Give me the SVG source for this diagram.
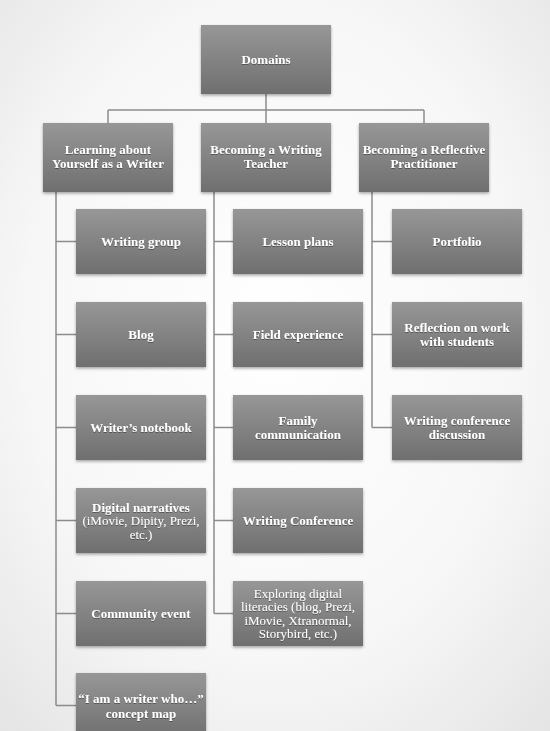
<svg xmlns="http://www.w3.org/2000/svg" width="550" height="731" viewBox="0 0 550 731">
<defs>
<radialGradient id="bg" cx="50%" cy="45%" r="75%">
<stop offset="0" stop-color="#ffffff"/>
<stop offset="0.6" stop-color="#f7f7f7"/>
<stop offset="1" stop-color="#e4e4e4"/>
</radialGradient>
<linearGradient id="box" x1="0" y1="0" x2="0" y2="1">
<stop offset="0" stop-color="#979797"/>
<stop offset="1" stop-color="#6f6f6f"/>
</linearGradient>
<filter id="sh" x="-10%" y="-10%" width="120%" height="130%">
<feDropShadow dx="0" dy="1.5" stdDeviation="1.5" flood-color="#000" flood-opacity="0.35"/>
</filter>
<filter id="ts" x="-5%" y="-20%" width="110%" height="140%">
<feDropShadow dx="0" dy="0.8" stdDeviation="0.5" flood-color="#000" flood-opacity="0.45"/>
</filter>
</defs>
<style>
.b{fill:url(#box);filter:url(#sh)}
.t{font-family:"Liberation Serif","DejaVu Serif",serif;font-weight:bold;font-size:13px;fill:#ffffff;text-anchor:middle;filter:url(#ts)}
.n{font-weight:normal}
.c{fill:none;stroke:#8c8c8c;stroke-width:1.5}
</style>
<rect width="550" height="731" fill="url(#bg)"/>
<g id="connectors">
<path class="c" d="M266 94V110M108 110H424M108 110V123M266 110V123M424 110V123"/>
<path class="c" d="M56 192V705.5M56 241.5H76M56 334.5H76M56 427.5H76M56 520.5H76M56 613.5H76M56 705.5H76"/>
<path class="c" d="M214 192V613.5M214 241.5H233M214 334.5H233M214 427.5H233M214 520.5H233M214 613.5H233"/>
<path class="c" d="M372 192V427.5M372 241.5H392M372 334.5H392M372 427.5H392"/>
</g>
<g id="domains"><rect class="b" x="201" y="25" width="130" height="69"/><text class="t" x="266" y="64">Domains</text></g>
<g id="learning"><rect class="b" x="43" y="123" width="130" height="69"/><text class="t" x="108" y="154">Learning about</text><text class="t" x="108" y="167.5">Yourself as a Writer</text></g>
<g id="teacher"><rect class="b" x="201" y="123" width="130" height="69"/><text class="t" x="266" y="154">Becoming a Writing</text><text class="t" x="266" y="167.5">Teacher</text></g>
<g id="reflective"><rect class="b" x="359" y="123" width="130" height="69"/><text class="t" x="424" y="154">Becoming a Reflective</text><text class="t" x="424" y="167.5">Practitioner</text></g>
<g id="writing-group"><rect class="b" x="76" y="209" width="130" height="65"/><text class="t" x="141" y="246">Writing group</text></g>
<g id="blog"><rect class="b" x="76" y="302" width="130" height="65"/><text class="t" x="141" y="339">Blog</text></g>
<g id="notebook"><rect class="b" x="76" y="395" width="130" height="65"/><text class="t" x="141" y="432">Writer’s notebook</text></g>
<g id="digital-narratives"><rect class="b" x="76" y="488" width="130" height="65"/><text class="t" x="141" y="511.5">Digital narratives</text><text class="t n" x="141" y="525">(iMovie, Dipity, Prezi,</text><text class="t n" x="141" y="538.5">etc.)</text></g>
<g id="community"><rect class="b" x="76" y="581" width="130" height="65"/><text class="t" x="141" y="618">Community event</text></g>
<g id="concept-map"><rect class="b" x="76" y="673" width="130" height="65"/><text class="t" x="141" y="702.5">“I am a writer who…”</text><text class="t" x="141" y="718">concept map</text></g>
<g id="lesson"><rect class="b" x="233" y="209" width="130" height="65"/><text class="t" x="298" y="246">Lesson plans</text></g>
<g id="field"><rect class="b" x="233" y="302" width="130" height="65"/><text class="t" x="298" y="339">Field experience</text></g>
<g id="family"><rect class="b" x="233" y="395" width="130" height="65"/><text class="t" x="298" y="425">Family</text><text class="t" x="298" y="438.5">communication</text></g>
<g id="conference"><rect class="b" x="233" y="488" width="130" height="65"/><text class="t" x="298" y="525">Writing Conference</text></g>
<g id="exploring"><rect class="b" x="233" y="581" width="130" height="65"/><text class="t n" x="298" y="597.5">Exploring digital</text><text class="t n" x="298" y="611">literacies (blog, Prezi,</text><text class="t n" x="298" y="624.5">iMovie, Xtranormal,</text><text class="t n" x="298" y="638">Storybird, etc.)</text></g>
<g id="portfolio"><rect class="b" x="392" y="209" width="130" height="65"/><text class="t" x="457" y="246">Portfolio</text></g>
<g id="reflection"><rect class="b" x="392" y="302" width="130" height="65"/><text class="t" x="457" y="332">Reflection on work</text><text class="t" x="457" y="345.5">with students</text></g>
<g id="conf-discussion"><rect class="b" x="392" y="395" width="130" height="65"/><text class="t" x="457" y="425">Writing conference</text><text class="t" x="457" y="438.5">discussion</text></g>
</svg>
